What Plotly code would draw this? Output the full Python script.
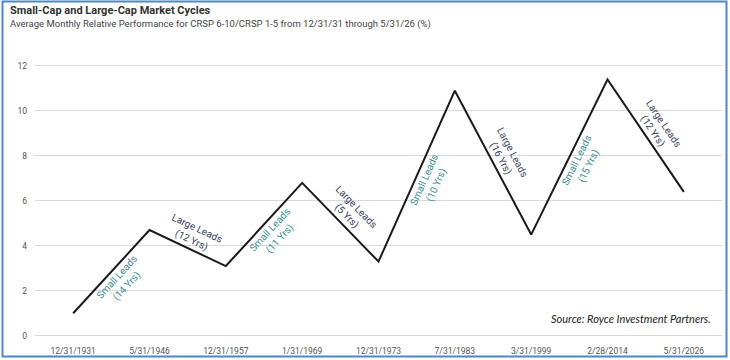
import math
import plotly.graph_objects as go

# ---------------- data ----------------
dates = ["12/31/1931", "5/31/1946", "12/31/1957", "1/31/1969", "12/31/1973",
         "7/31/1983", "3/31/1999", "2/28/2014", "5/31/2026"]
values = [1.0, 4.7, 3.1, 6.8, 3.3, 10.9, 4.5, 11.4, 6.4]
leaders = ["Small", "Large", "Small", "Large", "Small", "Large", "Small", "Large"]
years = [14, 12, 11, 5, 10, 16, 15, 12]
y_ticks = [0, 2, 4, 6, 8, 10, 12]

title = "Small-Cap and Large-Cap Market Cycles"
subtitle = ("Average Monthly Relative Performance for CRSP 6-10/CRSP 1-5 "
            "from 12/31/31 through 5/31/26 (%)")
source = "Source: Royce Investment Partners."

# ---------------- layout geometry ----------------
W, H = 730, 360
L, R, T, B = 35, 8, 61, 22
pw, ph = W - L - R, H - T - B
xr = [-0.5, 8.5]
yr = [-0.1, 12.22]
pxx = pw / (xr[1] - xr[0])
pxy = ph / (yr[1] - yr[0])

def px_x(p):
    return (p - L) / pw

def px_y(p):
    return (H - B - p) / ph

SMALL_COLOR = "#3d8c96"
LARGE_COLOR = "#3b3f62"

fig = go.Figure()
fig.add_trace(go.Scatter(
    x=dates, y=values, mode="lines",
    line=dict(color="#1a1a1a", width=2),
    hoverinfo="skip", showlegend=False,
))

annotations = []
for i, (who, yrs) in enumerate(zip(leaders, years)):
    dv = values[i + 1] - values[i]
    a = math.atan2(-dv * pxy, pxx)  # screen angle (y down)
    if who == "Small":
        nx, ny = -math.sin(a), math.cos(a)
        color = SMALL_COLOR
    else:
        nx, ny = math.sin(a), -math.cos(a)
        color = LARGE_COLOR
    d = 15
    annotations.append(dict(
        x=i + 0.5, y=(values[i] + values[i + 1]) / 2, xref="x", yref="y",
        text=f"{who} Leads<br>({yrs} Yrs)", showarrow=False,
        textangle=math.degrees(a), xshift=nx * d, yshift=-ny * d,
        font=dict(family="Roboto, Arial, sans-serif", size=10, color=color),
    ))

annotations.append(dict(
    x=px_x(8), y=px_y(10), xref="paper", yref="paper", xanchor="left", yanchor="middle",
    text=f"<b>{title}</b>", showarrow=False,
    font=dict(family="Roboto, Arial, sans-serif", size=11, color="#333333"),
))
annotations.append(dict(
    x=px_x(8), y=px_y(24), xref="paper", yref="paper", xanchor="left", yanchor="middle",
    text=subtitle, showarrow=False,
    font=dict(family="Roboto, Arial, sans-serif", size=9.5, color="#444444"),
))
annotations.append(dict(
    x=px_x(713), y=px_y(318), xref="paper", yref="paper", xanchor="right", yanchor="middle",
    text=f"<i>{source}</i>", showarrow=False,
    font=dict(family="Lato, 'Open Sans', sans-serif", size=11, color="#222222"),
))

fig.update_layout(
    width=W, height=H,
    margin=dict(l=L, r=R, t=T, b=B, pad=0, autoexpand=False),
    paper_bgcolor="white", plot_bgcolor="white",
    annotations=annotations,
    shapes=[dict(
        type="rect", xref="paper", yref="paper",
        x0=px_x(2.5), x1=px_x(726.5), y0=px_y(356.5), y1=px_y(1.5),
        line=dict(color="#4f86c6", width=2), fillcolor="rgba(0,0,0,0)", layer="above",
    )],
    xaxis=dict(
        type="category", categoryorder="array", categoryarray=dates,
        range=xr, showgrid=False, zeroline=False, showline=False, ticks="",
        automargin=False,
        tickfont=dict(family="'Liberation Sans Narrow', Roboto, sans-serif", size=8.5, color="#555555"),
        ticklabelstandoff=6,
    ),
    yaxis=dict(
        range=yr, tickvals=y_ticks, showgrid=True, gridcolor="#d9d9d9", gridwidth=1,
        zeroline=False, showline=False, ticks="", automargin=False,
        tickfont=dict(family="'Liberation Sans Narrow', Roboto, sans-serif", size=8.5, color="#555555"),
        ticklabelstandoff=7,
    ),
)

fig.write_html("out.html")
